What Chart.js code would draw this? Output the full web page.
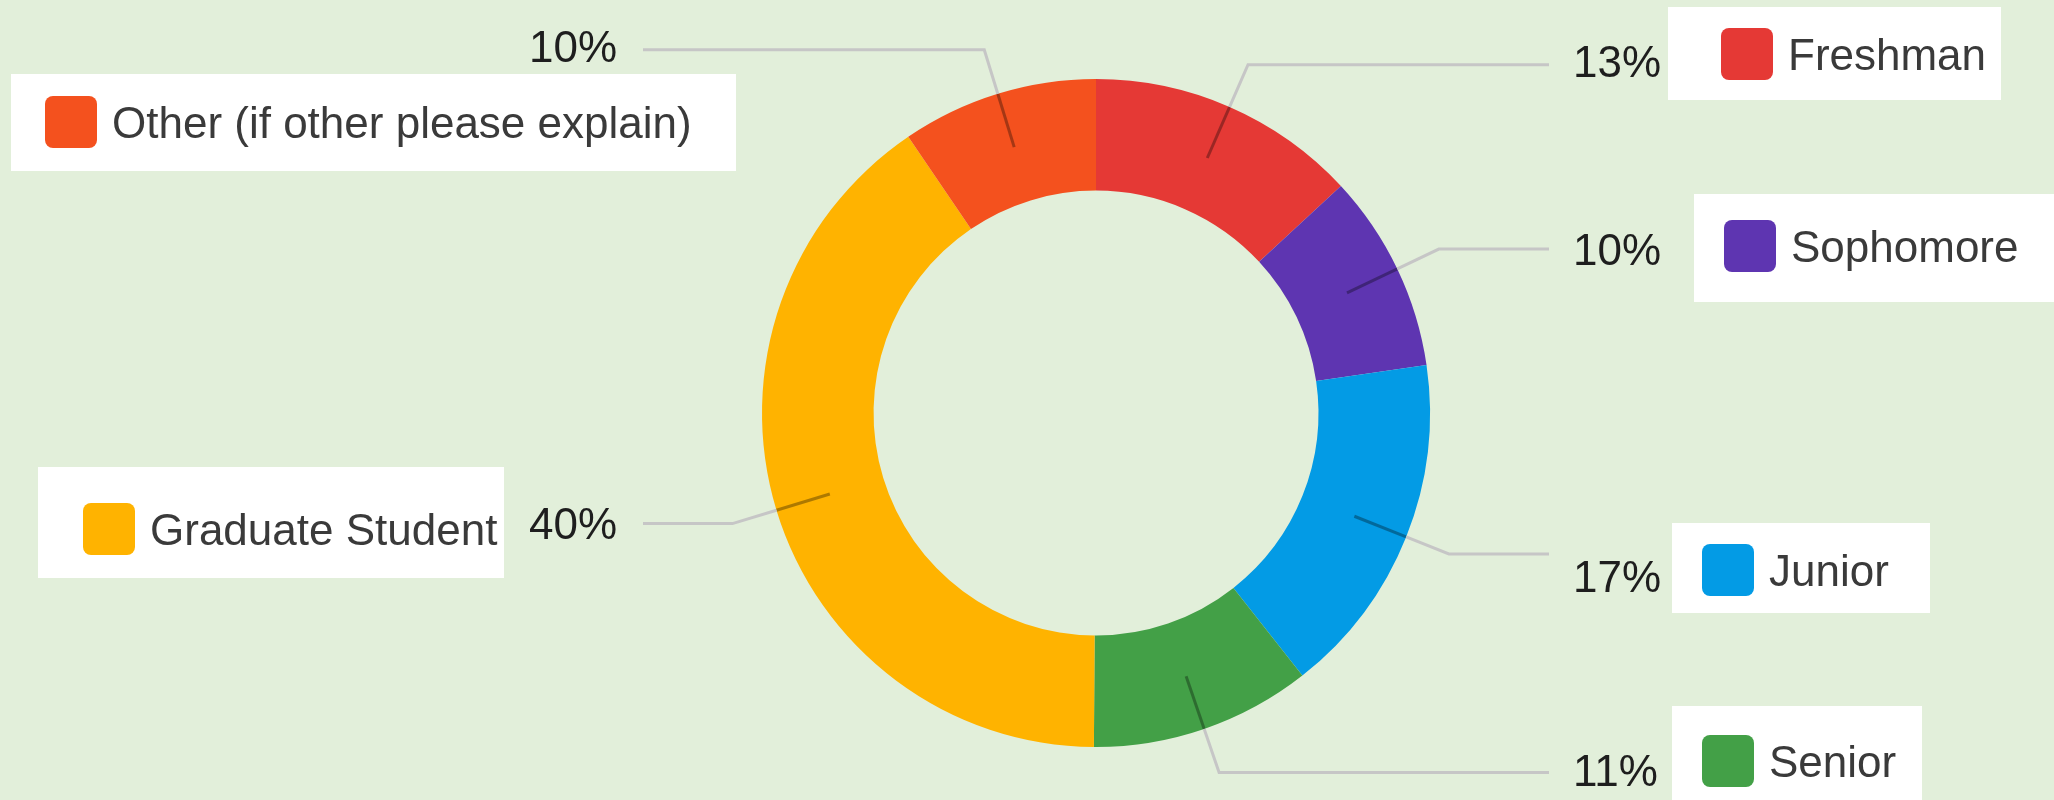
<!DOCTYPE html>
<html>
<head>
<meta charset="utf-8">
<script src="https://cdn.jsdelivr.net/npm/chart.js@4.4.1/dist/chart.umd.min.js"></script>
<style>
  html, body { margin: 0; padding: 0; background: #e2efda; }
  #wrap { position: relative; width: 2054px; height: 800px; }
</style>
</head>
<body>
<div id="wrap"><canvas id="chart" width="2054" height="800"></canvas></div>
<script>
// ---- data -------------------------------------------------------------------
const categories = ["Freshman", "Sophomore", "Junior", "Senior", "Graduate Student", "Other (if other please explain)"];
const shares = [13.1, 9.6, 16.7, 10.7, 40.4, 9.5];
const colors = ["#e53935", "#5e35b1", "#039be5", "#43a047", "#ffb300", "#f4511e"];

// ---- layout (legend chips sit in loose white boxes next to each label) -----
const FONT = "'Liberation Sans', Arial, sans-serif";
const FONT_PX = 44;
const LEGEND_BOXES = [
  { x: 1668, y: 7,   w: 333, h: 93,  sq: 1721, cy: 54 },   // Freshman
  { x: 1694, y: 194, w: 370, h: 108, sq: 1724, cy: 246 },  // Sophomore
  { x: 1672, y: 523, w: 258, h: 90,  sq: 1702, cy: 570 },  // Junior
  { x: 1672, y: 706, w: 250, h: 110, sq: 1702, cy: 761 },  // Senior
  { x: 38,   y: 467, w: 466, h: 111, sq: 83,   cy: 529 },  // Graduate Student
  { x: 11,   y: 74,  w: 725, h: 97,  sq: 45,   cy: 122 },  // Other
];
const LABEL_NUDGE_Y = [-4, 0, 22, -2, 0, -4];

const fmtPct = (v) => Math.round(v) + "%";

// leader line: slice centre -> just outside the ring -> horizontal to the label
const leaderLabels = {
  id: "leaderLabels",
  afterDatasetsDraw(chart) {
    const ctx = chart.ctx;
    const meta = chart.getDatasetMeta(0);
    ctx.save();
    ctx.lineWidth = 3;
    ctx.font = `${FONT_PX}px ${FONT}`;
    meta.data.forEach((arc, i) => {
      const { x, y, startAngle, endAngle, innerRadius, outerRadius } = arc.getProps(
        ["x", "y", "startAngle", "endAngle", "innerRadius", "outerRadius"], true);
      const mid = (startAngle + endAngle) / 2;
      const cos = Math.cos(mid), sin = Math.sin(mid);
      const rMid = (innerRadius + outerRadius) / 2;
      const rElbow = outerRadius + 46;
      const right = cos >= 0;
      const ex = x + rElbow * cos, ey = y + rElbow * sin;
      const endX = right ? x + 453 : x - 453;

      ctx.strokeStyle = "rgba(0,0,0,0.32)";
      ctx.beginPath();
      ctx.moveTo(x + rMid * cos, y + rMid * sin);
      ctx.lineTo(x + outerRadius * cos, y + outerRadius * sin);
      ctx.stroke();

      ctx.strokeStyle = "#c6c6c6";
      ctx.beginPath();
      ctx.moveTo(x + outerRadius * cos, y + outerRadius * sin);
      ctx.lineTo(ex, ey);
      ctx.lineTo(endX, ey);
      ctx.stroke();

      ctx.fillStyle = "#1e1e1e";
      ctx.textBaseline = "alphabetic";
      ctx.textAlign = right ? "left" : "right";
      const tx = right ? x + 477 : x - 479;
      const ty = ey + LABEL_NUDGE_Y[i] + FONT_PX * 0.36;
      ctx.fillText(fmtPct(shares[i]), tx, ty);
    });
    ctx.restore();
  },
};

const boxLegend = {
  id: "boxLegend",
  afterDraw(chart) {
    const ctx = chart.ctx;
    ctx.save();
    ctx.font = `${FONT_PX}px ${FONT}`;
    ctx.textAlign = "left";
    ctx.textBaseline = "alphabetic";
    LEGEND_BOXES.forEach((b, i) => {
      ctx.fillStyle = "#ffffff";
      ctx.fillRect(b.x, b.y, b.w, b.h);
      ctx.fillStyle = colors[i];
      ctx.beginPath();
      ctx.roundRect(b.sq, b.cy - 26, 52, 52, 8);
      ctx.fill();
      ctx.fillStyle = "#3a3a3a";
      ctx.fillText(categories[i], b.sq + 67, b.cy + FONT_PX * 0.36);
    });
    ctx.restore();
  },
};

new Chart(document.getElementById("chart"), {
  type: "doughnut",
  data: {
    labels: categories,
    datasets: [{
      data: shares,
      backgroundColor: colors,
      borderWidth: 0,
      hoverOffset: 0,
    }],
  },
  options: {
    responsive: false,
    animation: false,
    events: [],
    cutout: "66.6%",
    layout: { padding: { top: 79, bottom: 53, left: 400, right: 262 } },
    plugins: { legend: { display: false }, tooltip: { enabled: false } },
  },
  plugins: [leaderLabels, boxLegend],
});
</script>
</body>
</html>
